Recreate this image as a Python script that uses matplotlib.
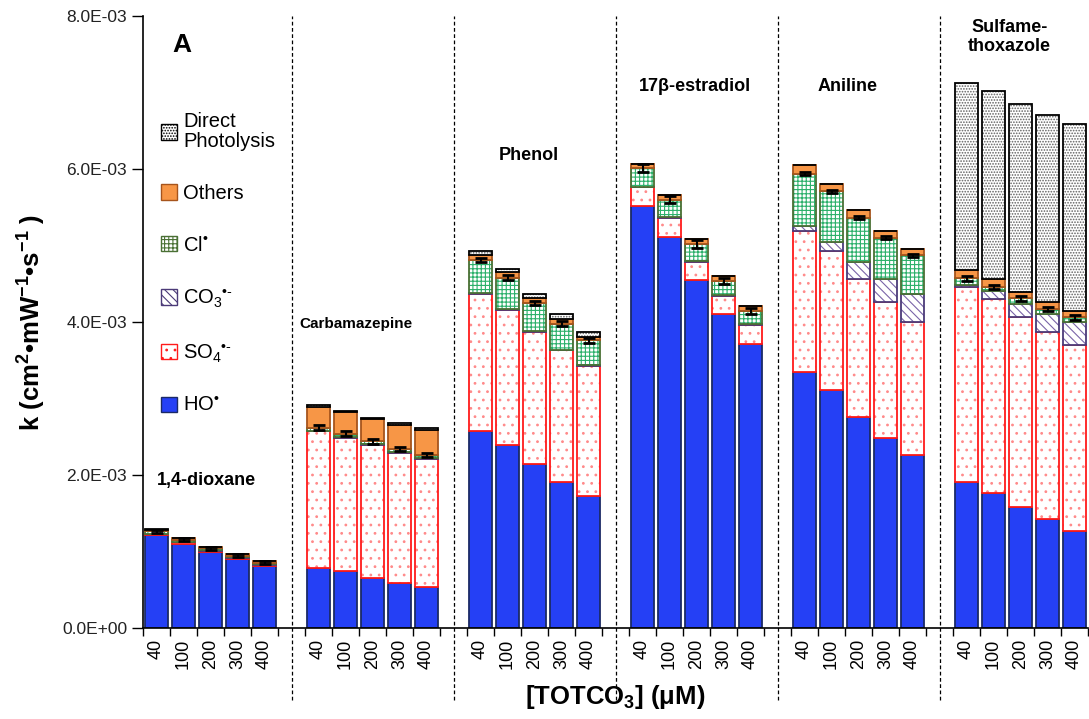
import matplotlib.pyplot as plt
import matplotlib.transforms as mtransforms
import numpy as np
from matplotlib.patches import Patch

plt.rcParams['font.family'] = ['Liberation Sans', 'DejaVu Sans']
plt.rcParams['mathtext.fontset'] = 'custom'
plt.rcParams['mathtext.rm'] = 'Liberation Sans'
plt.rcParams['mathtext.bf'] = 'Liberation Sans:bold'
plt.rcParams['hatch.linewidth'] = 0.8

compounds = ["1,4-dioxane", "Carbamazepine", "Phenol", "17\u03b2-estradiol", "Aniline", "Sulfame-\nthoxazole"]
conc = ["40", "100", "200", "300", "400"]

# values in 1e-3 cm2 mW-1 s-1, 5 concentrations per compound
ho = [1.21, 1.10, 0.99, 0.90, 0.81,
      0.79, 0.74, 0.65, 0.59, 0.53,
      2.58, 2.39, 2.14, 1.91, 1.73,
      5.51, 5.11, 4.55, 4.10, 3.71,
      3.35, 3.11, 2.76, 2.49, 2.26,
      1.91, 1.76, 1.58, 1.42, 1.27]
so4 = [0.02, 0.02, 0.02, 0.02, 0.02,
       1.78, 1.75, 1.74, 1.70, 1.68,
       1.79, 1.77, 1.73, 1.72, 1.70,
       0.25, 0.25, 0.24, 0.24, 0.25,
       1.84, 1.82, 1.80, 1.77, 1.74,
       2.55, 2.54, 2.48, 2.45, 2.43]
co3 = [0.005, 0.005, 0.005, 0.005, 0.005,
       0.01, 0.01, 0.01, 0.01, 0.01,
       0.01, 0.01, 0.01, 0.01, 0.01,
       0.01, 0.01, 0.01, 0.01, 0.01,
       0.06, 0.11, 0.22, 0.30, 0.36,
       0.03, 0.10, 0.18, 0.23, 0.30]
cl = [0.03, 0.03, 0.025, 0.02, 0.02,
      0.04, 0.04, 0.04, 0.04, 0.04,
      0.43, 0.41, 0.37, 0.34, 0.32,
      0.24, 0.23, 0.22, 0.19, 0.17,
      0.69, 0.67, 0.58, 0.54, 0.51,
      0.08, 0.06, 0.07, 0.07, 0.06]
others = [0.02, 0.02, 0.02, 0.02, 0.02,
          0.27, 0.28, 0.29, 0.32, 0.33,
          0.07, 0.07, 0.06, 0.06, 0.05,
          0.06, 0.06, 0.06, 0.06, 0.07,
          0.11, 0.09, 0.11, 0.09, 0.08,
          0.11, 0.10, 0.08, 0.09, 0.08]
direct = [0.005, 0.005, 0.005, 0.005, 0.005,
          0.02, 0.02, 0.02, 0.02, 0.02,
          0.05, 0.04, 0.06, 0.06, 0.06,
          0.0, 0.0, 0.0, 0.0, 0.0,
          0.0, 0.0, 0.0, 0.0, 0.0,
          2.45, 2.46, 2.46, 2.44, 2.45]
err = [0.02, 0.02, 0.02, 0.02, 0.02,
       0.03, 0.03, 0.03, 0.03, 0.03,
       0.03, 0.03, 0.03, 0.03, 0.03,
       0.05, 0.05, 0.05, 0.04, 0.04,
       0.02, 0.02, 0.02, 0.02, 0.02,
       0.03, 0.03, 0.03, 0.03, 0.03]

# segment styles: label, values, face, hatch colour, hatch, edge
segments = [
    ("HO$^{\u2022}$", ho, "#2540f5", "#2540f5", None, "#1b2a66"),
    ("SO$_4$$^{\u2022\u2010}$", so4, "white", "#ff8a8a", "..", "#ff1a1a"),
    ("CO$_3$$^{\u2022\u2010}$", co3, "white", "#7a64a8", "\\\\\\\\", "#4b3a78"),
    ("Cl$^{\u2022}$", cl, "white", "#2bb06a", "++++", "#4a7034"),
    ("Others", others, "#f79646", "#f79646", None, "#a6541c"),
    ("Direct\nPhotolysis", direct, "white", "#606060", "......", "#000000"),
]

x = np.array([6 * g + i for g in range(6) for i in range(5)])
width = 0.85

fig = plt.figure(figsize=(10.89, 7.19), dpi=100)
ax = fig.add_axes([143 / 1089, 1 - 628 / 719, 945 / 1089, 612 / 719])

bottom = np.zeros(len(x))
handles = []
cl_top = None
for label, vals, face, hcol, hatch, edge in segments:
    v = np.array(vals) * 1e-3
    ax.bar(x, v, width, bottom=bottom, color=face, edgecolor=hcol, hatch=hatch, linewidth=0)
    ax.bar(x, v, width, bottom=bottom, fill=False, edgecolor=edge, linewidth=1.3)
    bottom = bottom + v
    if label.startswith("Cl"):
        cl_top = bottom.copy()
    handles.append(Patch(facecolor=face, edgecolor=edge, hatch=hatch, label=label))

ax.errorbar(x, cl_top, yerr=np.array(err) * 1e-3, fmt="none", ecolor="black",
            elinewidth=1.5, capsize=4.5, capthick=2)

ax.set_xlim(-0.5, 34.5)
ax.set_ylim(0, 8e-3)
ax.set_yticks(np.arange(0, 8.1e-3, 2e-3))
ax.set_yticklabels([f"{v:.1E}" for v in np.arange(0, 8.1e-3, 2e-3)], fontsize=12.5, color="#222222")
ax.set_xticks(x)
ax.set_xticklabels(conc * 6, rotation=90, fontsize=13)
ax.set_xticks(np.arange(-0.5, 35, 1), minor=True)
ax.tick_params(axis="x", which="major", length=0, pad=8)
ax.tick_params(axis="x", which="minor", length=6, width=1, direction="out")
ax.tick_params(axis="y", length=8, width=1, direction="out")
ax.spines["top"].set_visible(False)
ax.spines["right"].set_visible(False)
for s in ["left", "bottom"]:
    ax.spines[s].set_linewidth(1.2)

trans = mtransforms.blended_transform_factory(ax.transData, ax.transAxes)
for g in range(1, 6):
    ax.plot([6 * g - 1, 6 * g - 1], [-0.118, 1.0], transform=trans, color="black",
            linewidth=0.9, linestyle=(0, (3, 2)), clip_on=False)

ax.set_ylabel("k (cm$\\mathbf{^2}$\u2022mW$\\mathbf{^{-1}}$\u2022s$\\mathbf{^{-1}}$ )",
              fontsize=18.5, fontweight="bold", labelpad=10)
ax.set_xlabel("[TOTCO$\\mathbf{_3}$] (\u03bcM)", fontsize=18.5, fontweight="bold", labelpad=10)

# compound names
ax.text(0.02, 1.93e-3, compounds[0], fontsize=13, fontweight="bold", ha="left", va="center")
ax.text(7.4, 3.98e-3, compounds[1], fontsize=11, fontweight="bold", ha="center", va="center")
ax.text(13.8, 6.18e-3, compounds[2], fontsize=13, fontweight="bold", ha="center", va="center")
ax.text(19.94, 7.08e-3, compounds[3], fontsize=13, fontweight="bold", ha="center", va="center")
ax.text(25.6, 7.08e-3, compounds[4], fontsize=13, fontweight="bold", ha="center", va="center")
ax.text(31.6, 7.72e-3, compounds[5], fontsize=13, fontweight="bold", ha="center", va="center",
        linespacing=1.15)
ax.text(0.95, 7.62e-3, "A", fontsize=19, fontweight="bold", ha="center", va="center")

leg = ax.legend(handles=handles[::-1], loc="upper left", bbox_to_anchor=(0.0, 0.873),
                frameon=False, fontsize=14.5, handlelength=0.8, handleheight=0.8,
                handletextpad=0.3, labelspacing=1.62, borderaxespad=0.5)
for t in leg.get_texts():
    t.set_linespacing(1.1)

fig.savefig("out.png", dpi=100)
